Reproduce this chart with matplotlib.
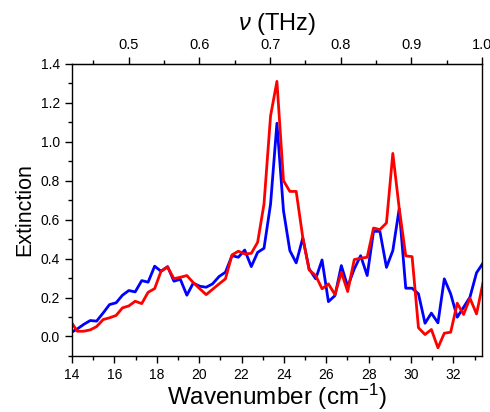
import numpy as np
import matplotlib
matplotlib.use('Agg')
import matplotlib.pyplot as plt
from matplotlib.ticker import MultipleLocator, FormatStrFormatter

plt.rcParams['font.family'] = ['Liberation Sans', 'DejaVu Sans']
plt.rcParams['mathtext.fontset'] = 'custom'
plt.rcParams['mathtext.rm'] = 'Liberation Sans'
plt.rcParams['mathtext.it'] = 'Liberation Sans:italic'

# wavenumber grid (cm^-1)
wavenumber = [13.95, 14.25, 14.55, 14.86, 15.16, 15.47, 15.77, 16.08, 16.38, 16.68,
              16.98, 17.29, 17.59, 17.90, 18.20, 18.51, 18.81, 19.11, 19.42, 19.72,
              20.03, 20.33, 20.63, 20.94, 21.24, 21.55, 21.85, 22.15, 22.46, 22.76,
              23.06, 23.37, 23.67, 23.98, 24.28, 24.58, 24.89, 25.19, 25.50, 25.80,
              26.10, 26.41, 26.71, 27.01, 27.32, 27.62, 27.93, 28.23, 28.53, 28.84,
              29.14, 29.44, 29.75, 30.05, 30.35, 30.66, 30.96, 31.27, 31.57, 31.87,
              32.18, 32.48, 32.78, 33.09, 33.39]

ext_blue = [0.020, 0.039, 0.062, 0.082, 0.079, 0.121, 0.164, 0.173, 0.212, 0.236,
            0.229, 0.287, 0.279, 0.361, 0.335, 0.359, 0.284, 0.294, 0.212, 0.274,
            0.258, 0.253, 0.270, 0.308, 0.330, 0.415, 0.407, 0.444, 0.359, 0.432,
            0.453, 0.680, 1.095, 0.646, 0.441, 0.378, 0.506, 0.347, 0.296, 0.393,
            0.179, 0.210, 0.364, 0.256, 0.347, 0.415, 0.313, 0.540, 0.540, 0.355,
            0.441, 0.655, 0.248, 0.248, 0.219, 0.068, 0.120, 0.070, 0.296, 0.219,
            0.099, 0.150, 0.202, 0.327, 0.376]

ext_red = [0.076, 0.027, 0.027, 0.034, 0.051, 0.087, 0.096, 0.108, 0.147, 0.157,
           0.181, 0.169, 0.227, 0.246, 0.335, 0.356, 0.297, 0.304, 0.313, 0.277,
           0.245, 0.215, 0.242, 0.270, 0.296, 0.419, 0.438, 0.424, 0.427, 0.484,
           0.680, 1.133, 1.310, 0.800, 0.745, 0.745, 0.509, 0.342, 0.313, 0.245,
           0.270, 0.215, 0.330, 0.231, 0.395, 0.402, 0.407, 0.557, 0.549, 0.583,
           0.940, 0.660, 0.414, 0.410, 0.045, 0.010, 0.036, -0.058, 0.017, 0.022,
           0.171, 0.113, 0.197, 0.116, 0.273]

CM_TO_THZ = 0.0299792458

fig = plt.figure(figsize=(4.9, 4.12), dpi=100)
ax = fig.add_axes([0.147, 0.136, 0.837, 0.709])

ax.plot(wavenumber, ext_blue, color='#0000ff', lw=2.0)
ax.plot(wavenumber, ext_red, color='#ff0000', lw=2.0)

ax.set_xlim(14, 1 / CM_TO_THZ)
ax.set_ylim(-0.1, 1.4)

ax.xaxis.set_major_locator(MultipleLocator(2))
ax.xaxis.set_minor_locator(MultipleLocator(1))
ax.yaxis.set_major_locator(MultipleLocator(0.2))
ax.yaxis.set_minor_locator(MultipleLocator(0.1))
ax.yaxis.set_major_formatter(FormatStrFormatter('%.1f'))
ax.tick_params(which='major', direction='out', length=5, width=1, labelsize=10)
ax.tick_params(which='minor', direction='out', length=3, width=1)
ax.tick_params(top=False, right=False)

ax.set_xlabel('Wavenumber (cm$^{-1}$)', fontsize=17.5, labelpad=0)
ax.set_ylabel('Extinction', fontsize=15.5, labelpad=4)

top = ax.secondary_xaxis('top', functions=(lambda w: w * CM_TO_THZ, lambda f: f / CM_TO_THZ))
top.set_xticks([0.5, 0.6, 0.7, 0.8, 0.9, 1.0])
top.xaxis.set_minor_locator(MultipleLocator(0.05))
top.xaxis.set_major_formatter(FormatStrFormatter('%.1f'))
top.tick_params(which='major', direction='out', length=5, width=1, labelsize=10.5)
top.tick_params(which='minor', direction='out', length=3, width=1)
top.set_xlabel(r'$\nu$ (THz)', fontsize=17, labelpad=6)

for s in ax.spines.values():
    s.set_linewidth(1)

fig.savefig('out.png', dpi=100)
